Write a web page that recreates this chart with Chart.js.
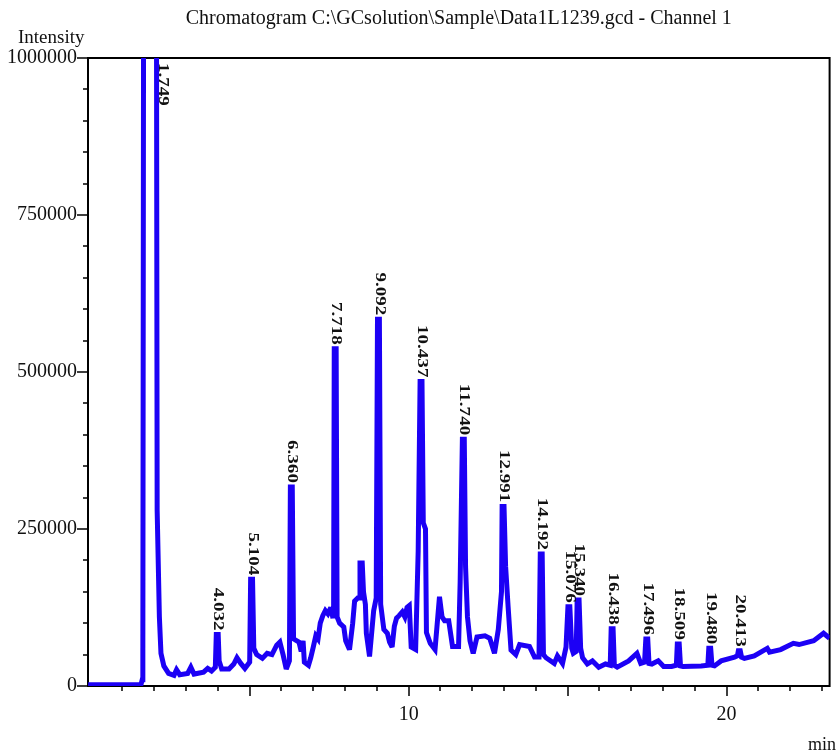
<!DOCTYPE html>
<html>
<head>
<meta charset="utf-8">
<script src="https://cdn.jsdelivr.net/npm/chart.js@4/dist/chart.umd.min.js"></script>
<style>
html,body{margin:0;padding:0;background:#fff;}
canvas{display:block;}
</style>
</head>
<body>
<canvas id="c" width="839" height="755"></canvas>
<script>
// ---- data (retention time in min, intensity) ----
const times = [
 -0.08, 1.58, 1.62, 1.64, 1.67, 1.90, 2.06, 2.09, 2.16, 2.21,
 2.30, 2.45, 2.62, 2.70, 2.80, 3.05, 3.15, 3.25, 3.55, 3.68,
 3.80, 3.92, 3.95, 4.01, 4.04, 4.12, 4.35, 4.50, 4.60, 4.72,
 4.85, 5.00, 5.03, 5.09, 5.13, 5.22, 5.40, 5.55, 5.70, 5.85,
 5.95, 6.05, 6.15, 6.25, 6.28, 6.34, 6.38, 6.55, 6.62, 6.68,
 6.72, 6.85, 6.92, 7.00, 7.08, 7.15, 7.22, 7.30, 7.38, 7.46,
 7.55, 7.62, 7.64, 7.66, 7.72, 7.75, 7.83, 7.96, 8.02, 8.14,
 8.24, 8.30, 8.40, 8.44, 8.47, 8.54, 8.58, 8.64, 8.67, 8.77,
 8.90, 8.98, 9.02, 9.08, 9.12, 9.22, 9.33, 9.40, 9.48, 9.55,
 9.62, 9.70, 9.80, 9.88, 9.95, 10.02, 10.08, 10.22, 10.30, 10.36,
 10.42, 10.46, 10.53, 10.56, 10.68, 10.83, 10.97, 11.05, 11.13, 11.26,
 11.38, 11.57, 11.62, 11.69, 11.75, 11.79, 11.85, 11.93, 12.03, 12.15,
 12.40, 12.55, 12.70, 12.82, 12.92, 12.94, 13.00, 13.05, 13.13, 13.22,
 13.37, 13.49, 13.80, 13.96, 14.10, 14.14, 14.20, 14.24, 14.32, 14.58,
 14.68, 14.84, 14.95, 15.01, 15.07, 15.13, 15.18, 15.27, 15.30, 15.36,
 15.41, 15.47, 15.62, 15.78, 15.98, 16.19, 16.34, 16.37, 16.43, 16.47,
 16.56, 16.92, 17.18, 17.30, 17.42, 17.46, 17.52, 17.56, 17.65, 17.85,
 18.02, 18.27, 18.42, 18.45, 18.51, 18.55, 18.63, 19.20, 19.41, 19.44,
 19.50, 19.54, 19.62, 19.83, 20.25, 20.34, 20.37, 20.43, 20.47, 20.56,
 20.87, 21.28, 21.35, 21.70, 22.10, 22.28, 22.74, 23.05, 23.24
];
const intensities = [
 2000, 2000, 10000, 58000, 1400000, 3200000, 1400000, 280000, 110000, 52000,
 32000, 20000, 17000, 26000, 18000, 20000, 30000, 19000, 22000, 28000,
 24000, 30000, 82000, 82000, 40000, 27000, 27000, 35000, 45000, 36000,
 28000, 38000, 170000, 170000, 60000, 50000, 44000, 52000, 50000, 65000,
 70000, 50000, 27000, 40000, 317000, 317000, 75000, 70000, 55000, 72000,
 38000, 33000, 45000, 62000, 80000, 75000, 100000, 112000, 120000, 115000,
 125000, 108000, 125000, 537000, 537000, 110000, 100000, 94000, 72000, 58000,
 100000, 135000, 140000, 140000, 196000, 196000, 150000, 130000, 84000, 47000,
 120000, 140000, 584000, 584000, 130000, 90000, 84000, 70000, 62000, 95000,
 108000, 112000, 118000, 110000, 125000, 128000, 62000, 58000, 215000, 485000,
 485000, 260000, 250000, 85000, 68000, 58000, 142000, 110000, 104000, 104000,
 63000, 63000, 165000, 393000, 393000, 190000, 110000, 72000, 52000, 78000,
 80000, 76000, 52000, 90000, 150000, 286000, 286000, 190000, 125000, 57000,
 50000, 66000, 63000, 46000, 46000, 210000, 210000, 50000, 45000, 36000,
 48000, 36000, 62000, 126000, 126000, 60000, 52000, 55000, 137000, 137000,
 60000, 45000, 35000, 40000, 30000, 35000, 33000, 91000, 91000, 33000,
 30000, 40000, 52000, 36000, 38000, 75000, 75000, 36000, 35000, 40000,
 31000, 31000, 33000, 67000, 67000, 32000, 31000, 32000, 33000, 60000,
 60000, 33000, 32000, 40000, 46000, 48000, 56000, 56000, 46000, 44000,
 48000, 60000, 54000, 58000, 68000, 66000, 72000, 84000, 76000
];
// peak annotations: label text and the retention time at which each label stands
const peakLabels = ['1.749','4.032','5.104','6.360','7.718','9.092','10.437','11.740','12.991','14.192','15.076','15.340','16.438','17.496','18.509','19.480','20.413'];
const peakTimes  = [2.24, 3.98, 5.06, 6.31, 7.69, 9.05, 10.39, 11.72, 12.97, 14.17, 15.04, 15.33, 16.40, 17.49, 18.48, 19.47, 20.40];
// axis ticks
const xTicks = [1,2,3,4,5,6,7,8,9,10,11,12,13,14,15,16,17,18,19,20,21,22,23];
const xTickLabels = [10, 20];
const xMajorTicks = [5, 10, 15, 20];
const yTicks = [0,50000,100000,150000,200000,250000,300000,350000,400000,450000,500000,550000,600000,650000,700000,750000,800000,850000,900000,950000,1000000];
const yTickLabels = [0, 250000, 500000, 750000, 1000000];

const titleText = 'Chromatogram C:\\GCsolution\\Sample\\Data1L1239.gcd - Channel 1';
const SERIF = '"Liberation Serif", "Times New Roman", serif';
const TRACE = '#1c00f5';

const points = times.map((t, i) => ({x: t, y: intensities[i]}));

const decor = {
  id: 'decor',
  beforeDatasetsDraw(chart) {
    const {ctx, chartArea: a, scales} = chart;
    ctx.save();
    ctx.strokeStyle = '#000';
    ctx.lineWidth = 2;
    ctx.strokeRect(a.left, a.top, a.right - a.left, a.bottom - a.top);
    ctx.lineWidth = 1.5;
    ctx.beginPath();
    scales.y.ticks.forEach(tk => {
      const py = Math.round(scales.y.getPixelForValue(tk.value));
      const len = yTickLabels.includes(tk.value) ? 11 : 5;
      ctx.moveTo(a.left - len, py); ctx.lineTo(a.left, py);
    });
    scales.x.ticks.forEach(tk => {
      const px = Math.round(scales.x.getPixelForValue(tk.value));
      const len = xMajorTicks.includes(tk.value) ? 10 : 5;
      ctx.moveTo(px, a.bottom); ctx.lineTo(px, a.bottom + len);
    });
    ctx.stroke();
    ctx.restore();
    ctx.miterLimit = 3;
  },
  afterDatasetsDraw(chart) {
    const {ctx, chartArea: a, scales} = chart;
    ctx.save();
    // title
    ctx.fillStyle = '#111';
    ctx.font = '20px ' + SERIF;
    ctx.textAlign = 'center';
    ctx.textBaseline = 'alphabetic';
    ctx.fillText(titleText, (a.left + a.right) / 2, 24);
    // axis names
    ctx.font = '19px ' + SERIF;
    ctx.textAlign = 'left';
    ctx.fillText('Intensity', 18, 43);
    ctx.font = '18px ' + SERIF;
    ctx.textAlign = 'right';
    ctx.fillText('min', 836, 750);
    // peak labels
    ctx.font = 'bold 15px ' + SERIF;
    ctx.textBaseline = 'middle';
    peakTimes.forEach((t, i) => {
      let top = -Infinity;
      times.forEach((tt, j) => { if (Math.abs(tt - t) <= 0.2 && intensities[j] > top) top = intensities[j]; });
      const px = scales.x.getPixelForValue(t) + 1;
      const py = scales.y.getPixelForValue(top);
      ctx.save();
      if (py < a.top + 10) {
        ctx.translate(px, a.top + 5);
        ctx.rotate(Math.PI / 2);
        ctx.scale(1.27, 1);
        ctx.textAlign = 'left';
      } else {
        ctx.translate(px, py - 4);
        ctx.rotate(Math.PI / 2);
        ctx.scale(1.27, 1);
        ctx.textAlign = 'right';
      }
      ctx.fillText(peakLabels[i], 0, 0);
      ctx.restore();
    });
    ctx.restore();
  }
};

new Chart(document.getElementById('c'), {
  type: 'line',
  data: {
    datasets: [{
      data: points,
      borderColor: TRACE,
      borderWidth: 5,
      borderJoinStyle: 'miter',
      pointRadius: 0,
      fill: false,
      tension: 0
    }]
  },
  options: {
    responsive: false,
    animation: false,
    layout: {padding: {left: 0, top: 58, right: 3, bottom: 0}},
    plugins: {legend: {display: false}, tooltip: {enabled: false}, title: {display: false}},
    scales: {
      x: {
        type: 'linear',
        min: -0.085,
        max: 23.24,
        afterBuildTicks: s => { s.ticks = xTicks.map(v => ({value: v})); },
        afterFit: s => { s.height = 69; },
        grid: {display: false, drawTicks: false},
        border: {display: false},
        ticks: {
          autoSkip: false, maxRotation: 0, padding: 17, color: '#111',
          font: {family: SERIF, size: 20},
          callback: v => xTickLabels.includes(v) ? String(v) : ''
        }
      },
      y: {
        type: 'linear',
        min: 0,
        max: 1000000,
        afterBuildTicks: s => { s.ticks = yTicks.map(v => ({value: v})); },
        afterFit: s => { s.width = 88; },
        grid: {display: false, drawTicks: false},
        border: {display: false},
        ticks: {
          autoSkip: false, padding: 11, color: '#111',
          font: {family: SERIF, size: 20},
          callback: v => yTickLabels.includes(v) ? String(v) : ''
        }
      }
    }
  },
  plugins: [decor]
});
</script>
</body>
</html>
